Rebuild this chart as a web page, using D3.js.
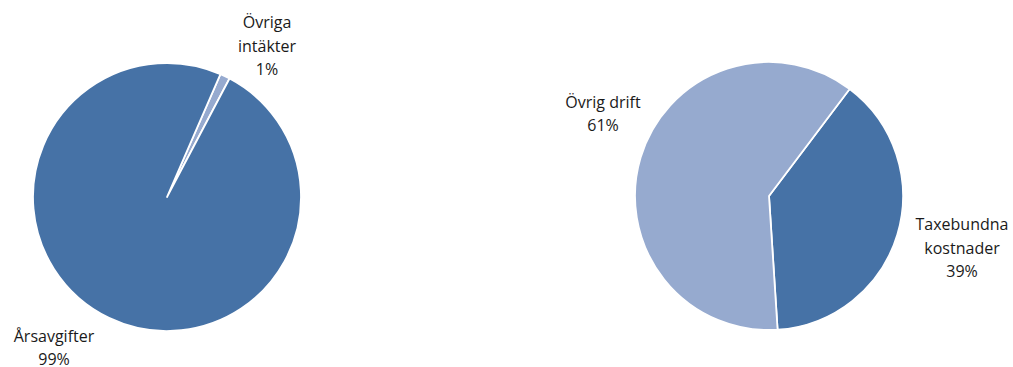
<!DOCTYPE html>
<html><head><meta charset="utf-8">
<script src="https://cdn.jsdelivr.net/npm/d3@7"></script>
<style>body{margin:0;background:#fff}svg{display:block}</style>
</head><body><svg id="c" width="1013" height="367"></svg>
<script>
// Left pie
const leftCategories = ["Övriga intäkter", "Årsavgifter"];
const leftValues = [1.2, 98.8];
const leftLabels = ["1%", "99%"];
// Right pie
const rightCategories = ["Taxebundna kostnader", "Övrig drift"];
const rightValues = [38.7, 61.3];
const rightLabels = ["39%", "61%"];

const dark = "#4672a6", light = "#96aacf";
const svg = d3.select("#c");
const R = 134;

function drawPie(cx, cy, cats, vals, labs, colors, startDeg, labelLines, labelPos) {
  const g = svg.append("g").attr("transform", `translate(${cx},${cy})`);
  const pie = d3.pie().sort(null).value(d => d)
    .startAngle(startDeg * Math.PI / 180).endAngle(startDeg * Math.PI / 180 + 2 * Math.PI);
  const arc = d3.arc().innerRadius(0).outerRadius(R);
  const arcs = pie(vals);
  g.selectAll("path").data(arcs).join("path")
    .attr("d", arc).attr("fill", (d, i) => colors[i])
    .attr("stroke", "#fff").attr("stroke-width", 1.8).attr("stroke-linejoin", "round");
  arcs.forEach((a, i) => {
    const lines = labelLines[i].concat([labs[i]]);
    const [lx, ly] = labelPos[i];
    const t = g.append("text").attr("text-anchor", "middle")
      .attr("font-family", "'Open Sans', sans-serif").attr("font-size", 16)
      .attr("fill", "#1a1a1a");
    const n = lines.length;
    lines.forEach((ln, k) => {
      t.append("tspan").attr("x", lx).attr("y", ly + (k - (n - 1) / 2) * 23.5)
        .attr("dy", "0.35em").text(ln);
    });
  });
}

drawPie(167, 197, leftCategories, leftValues, leftLabels, [light, dark], 23.5,
  [["Övriga", "intäkter"], ["Årsavgifter"]],
  [[100, -151], [-113, 151]]);

drawPie(769, 196, rightCategories, rightValues, rightLabels, [dark, light], 37,
  [["Taxebundna", "kostnader"], ["Övrig drift"]],
  [[193, 52], [-166, -82]]);
</script></body></html>
